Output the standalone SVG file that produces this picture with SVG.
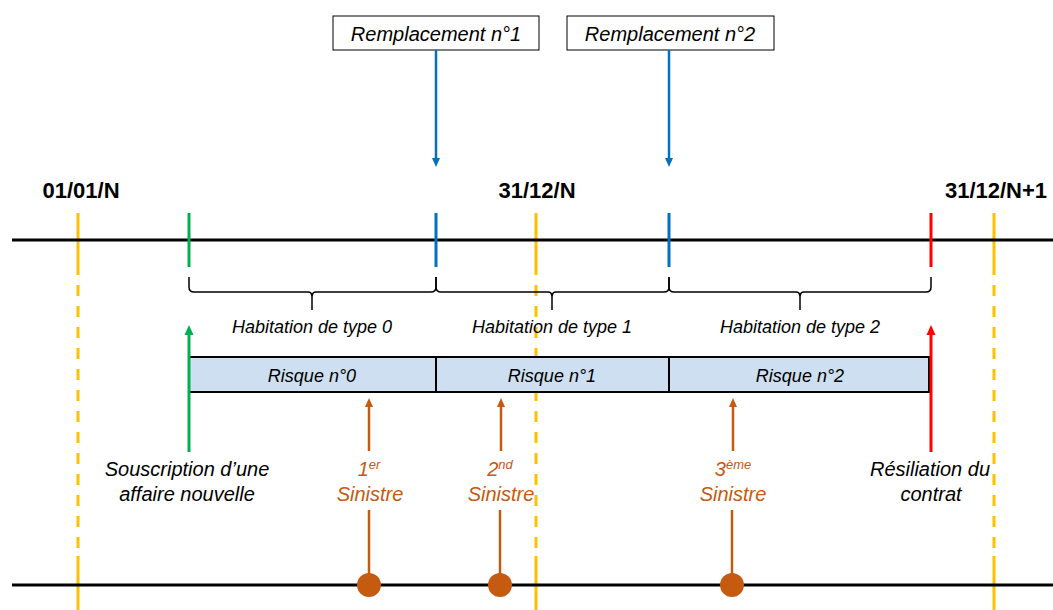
<svg xmlns="http://www.w3.org/2000/svg" width="1053" height="610" viewBox="0 0 1053 610">
  <style>
    text { font-family: "Liberation Sans", Arial, sans-serif; }
    .lbl { font-style: italic; font-size: 20px; fill: #000; text-anchor: middle; }
    .sm { font-style: italic; font-size: 18px; fill: #000; text-anchor: middle; }
    .date { font-weight: bold; font-size: 22px; fill: #000; text-anchor: middle; }
    .sin { font-style: italic; font-size: 20px; fill: #C55A11; text-anchor: middle; }
    .sup { font-size: 13px; }
    .axis { stroke: #000; stroke-width: 3; }
    .year { stroke: #FFC000; stroke-width: 3; fill: none; }
    .year-dash { stroke: #FFC000; stroke-width: 3; stroke-dasharray: 11 10; fill: none; }
    .tick { stroke-width: 3; }
    .brace { fill: none; stroke: #000; stroke-width: 1.5; }
    .box { fill: #fff; stroke: #000; stroke-width: 1; }
    .risk { fill: #CDDFF0; stroke: #000; stroke-width: 2; }
    .blue { stroke: #0070C0; stroke-width: 2.5; }
    .orange { stroke: #C55A11; stroke-width: 2.5; }
  </style>
  <defs>
    <marker id="ah-blue" markerUnits="userSpaceOnUse" markerWidth="9" markerHeight="9" viewBox="0 0 9 9" refX="0" refY="4.5" orient="auto">
      <path d="M0,0.5 L9,4.5 L0,8.5 z" fill="#0070C0"/>
    </marker>
    <marker id="ah-orange" markerUnits="userSpaceOnUse" markerWidth="9" markerHeight="9" viewBox="0 0 9 9" refX="0" refY="4.5" orient="auto">
      <path d="M0,0.5 L9,4.5 L0,8.5 z" fill="#C55A11"/>
    </marker>
    <marker id="ah-green" markerUnits="userSpaceOnUse" markerWidth="10" markerHeight="10" viewBox="0 0 10 10" refX="0" refY="5" orient="auto">
      <path d="M0,0.5 L10,5 L0,9.5 z" fill="#00B050"/>
    </marker>
    <marker id="ah-red" markerUnits="userSpaceOnUse" markerWidth="10" markerHeight="10" viewBox="0 0 10 10" refX="0" refY="5" orient="auto">
      <path d="M0,0.5 L10,5 L0,9.5 z" fill="#FF0000"/>
    </marker>
  </defs>

  <!-- Year boundaries (yellow, dashed between the two axes) -->
  <g id="years">
    <path class="year" d="M78,213 V275 M78,556 V610 M536,213 V275 M536,556 V610 M994,213 V275 M994,556 V610"/>
    <path class="year-dash" d="M78,285 V556 M536,285 V556 M994,285 V556"/>
  </g>

  <!-- Time axes -->
  <g id="axes">
    <line class="axis" x1="12" y1="240" x2="1053" y2="240"/>
    <line class="axis" x1="12" y1="585" x2="1053" y2="585"/>
  </g>

  <g id="dates">
    <text class="date" x="81" y="198">01/01/N</text>
    <text class="date" x="537" y="198">31/12/N</text>
    <text class="date" x="996" y="198">31/12/N+1</text>
  </g>

  <!-- Event ticks on the upper axis -->
  <g id="ticks">
    <line class="tick" x1="189" y1="213" x2="189" y2="267" stroke="#00B050"/>
    <line class="tick" x1="436" y1="213" x2="436" y2="267" stroke="#0070C0"/>
    <line class="tick" x1="669" y1="213" x2="669" y2="267" stroke="#0070C0"/>
    <line class="tick" x1="931" y1="213" x2="931" y2="267" stroke="#FF0000"/>
  </g>

  <g id="remplacement-1">
    <rect class="box" x="333" y="16" width="206" height="34"/>
    <text class="lbl" x="436" y="41">Remplacement n°1</text>
  </g>
  <g id="remplacement-2">
    <rect class="box" x="567" y="16" width="207" height="34"/>
    <text class="lbl" x="670" y="41">Remplacement n°2</text>
  </g>

  <!-- Braces grouping each period -->
  <g id="braces">
    <path class="brace" d="M189,277 V287 Q189,292 194,292 H308 Q312,292 312,297 V310 M312,297 Q312,292 316,292 H431 Q436,292 436,287 V277"/>
    <path class="brace" d="M436,277 V287 Q436,292 441,292 H548 Q552,292 552,297 V310 M552,297 Q552,292 556,292 H664 Q669,292 669,287 V277"/>
    <path class="brace" d="M669,277 V287 Q669,292 674,292 H796 Q800,292 800,297 V310 M800,297 Q800,292 804,292 H926 Q931,292 931,287 V277"/>
  </g>

  <g id="habitation-0"><text class="sm" x="312" y="333">Habitation de type 0</text></g>
  <g id="habitation-1"><text class="sm" x="552" y="333">Habitation de type 1</text></g>
  <g id="habitation-2"><text class="sm" x="800" y="333">Habitation de type 2</text></g>

  <g id="risque-0">
    <rect class="risk" x="189" y="357" width="247" height="35"/>
    <text class="sm" x="312" y="382">Risque n°0</text>
  </g>
  <g id="risque-1">
    <rect class="risk" x="436" y="357" width="233" height="35"/>
    <text class="sm" x="552" y="382">Risque n°1</text>
  </g>
  <g id="risque-2">
    <rect class="risk" x="669" y="357" width="260" height="35"/>
    <text class="sm" x="800" y="382">Risque n°2</text>
  </g>

  <g id="souscription">
    <text class="lbl" x="187" y="476">Souscription d’une</text>
    <text class="lbl" x="187" y="501">affaire nouvelle</text>
  </g>
  <g id="resiliation">
    <text class="lbl" x="930" y="476">Résiliation du</text>
    <text class="lbl" x="931" y="501">contrat</text>
  </g>

  <g id="sinistre-1">
    <text class="sin" x="369" y="476">1<tspan class="sup" dy="-7">er</tspan></text>
    <text class="sin" x="370" y="501">Sinistre</text>
    <circle cx="369" cy="585" r="12" fill="#C55A11"/>
  </g>
  <g id="sinistre-2">
    <text class="sin" x="500" y="476">2<tspan class="sup" dy="-7">nd</tspan></text>
    <text class="sin" x="501" y="501">Sinistre</text>
    <circle cx="500" cy="585" r="12" fill="#C55A11"/>
  </g>
  <g id="sinistre-3">
    <text class="sin" x="733" y="476">3<tspan class="sup" dy="-7">ème</tspan></text>
    <text class="sin" x="733" y="501">Sinistre</text>
    <circle cx="732" cy="585" r="12" fill="#C55A11"/>
  </g>

  <!-- Connectors -->
  <g id="connectors">
    <line class="blue" x1="436" y1="50" x2="436" y2="158" marker-end="url(#ah-blue)"/>
    <line class="blue" x1="669" y1="50" x2="669" y2="158" marker-end="url(#ah-blue)"/>
    <line stroke="#00B050" stroke-width="3" x1="189" y1="452" x2="189" y2="335" marker-end="url(#ah-green)"/>
    <line stroke="#FF0000" stroke-width="3" x1="931" y1="452" x2="931" y2="335" marker-end="url(#ah-red)"/>
    <line class="orange" x1="369" y1="451" x2="369" y2="407" marker-end="url(#ah-orange)"/>
    <line class="orange" x1="501" y1="451" x2="501" y2="407" marker-end="url(#ah-orange)"/>
    <line class="orange" x1="733" y1="451" x2="733" y2="407" marker-end="url(#ah-orange)"/>
    <line class="orange" x1="369" y1="510" x2="369" y2="575"/>
    <line class="orange" x1="500" y1="510" x2="500" y2="575"/>
    <line class="orange" x1="732" y1="510" x2="732" y2="575"/>
  </g>
</svg>
